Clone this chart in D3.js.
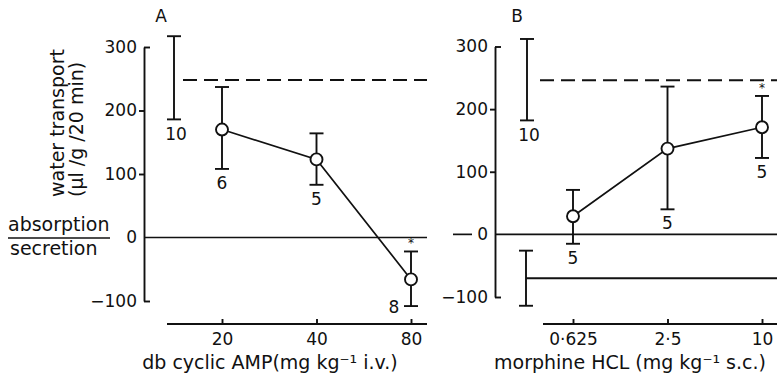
<!DOCTYPE html>
<html>
<head>
<meta charset="utf-8">
<script src="https://cdn.jsdelivr.net/npm/d3@7"></script>
<style>
  body { margin: 0; background: #fff; }
  text { font-family: "DejaVu Sans", sans-serif; fill: #111; }
</style>
</head>
<body>
<svg id="chart" width="777" height="377"></svg>
<script>
// panel A: db cyclic AMP
const dosesA = [20, 40, 80];
const tickLabelsA = ["20", "40", "80"];
const meansA = [170, 123, -66];
const upperA = [237, 164, -22];
const lowerA = [108, 83, -108];
const nA = [6, 5, 8];
const starA = [false, false, true];
const controlA = [248, 186, 317]; // mean, low, high
const controlNA = 10;

// panel B: morphine HCL
const dosesB = [0.625, 2.5, 10];
const tickLabelsB = ["0·625", "2·5", "10"];
const meansB = [29, 137, 171];
const upperB = [71, 236, 221];
const lowerB = [-15, 40, 122];
const nB = [5, 5, 5];
const starB = [false, false, true];
const controlB = [246, 182, 312];
const controlNB = 10;
const morphineAlone = [-70, -114, -26];

const yTicks = [-100, 0, 100, 200, 300];

const svg = d3.select("#chart");
svg.append("rect").attr("width", 777).attr("height", 377).attr("fill", "#fff");

const stroke = "#111";

function panel(cfg) {
    const g = svg.append("g");
    const y = d3.scaleLinear().domain([-100, 300]).range(cfg.yRange);
    const x = d3.scaleLog().base(2).domain(d3.extent(cfg.doses)).range(cfg.xRange);

    // y axis
    const yAxis = g.append("g")
        .attr("transform", `translate(${cfg.axisX},0)`)
        .call(d3.axisLeft(y).tickValues(yTicks).tickSize(5).tickPadding(2).tickSizeOuter(0).tickFormat(d3.format("d")));
    yAxis.select(".domain").attr("stroke", stroke).attr("stroke-width", 1.9);
    yAxis.selectAll(".tick line").attr("stroke", stroke).attr("stroke-width", 1.9)
        .attr("x2", d => (d === 300 || d === -100) ? 6 : (d === 0 ? 0 : -5));
    yAxis.selectAll(".tick text").attr("font-size", 17).attr("fill", "#111")
        .attr("font-family", "DejaVu Sans, sans-serif");

    // x axis (ticks pointing up)
    const xAxis = g.append("g")
        .attr("transform", `translate(0,${cfg.xAxisY})`)
        .call(d3.axisBottom(x).tickValues(cfg.doses).tickSizeInner(-5).tickSizeOuter(0).tickPadding(9)
            .tickFormat((d, i) => cfg.tickLabels[i]));
    xAxis.select(".domain").remove();
    xAxis.selectAll(".tick line").attr("stroke", stroke).attr("stroke-width", 1.9);
    xAxis.selectAll(".tick text").attr("font-size", 17).attr("fill", "#111")
        .attr("font-family", "DejaVu Sans, sans-serif");
    g.append("line")
        .attr("x1", cfg.xLineExtent[0]).attr("x2", cfg.xLineExtent[1])
        .attr("y1", cfg.xAxisY).attr("y2", cfg.xAxisY)
        .attr("stroke", stroke).attr("stroke-width", 1.9);
    g.append("text")
        .attr("x", cfg.xTitleX).attr("y", 369)
        .attr("text-anchor", "middle").attr("font-size", 19)
        .text(cfg.xTitle);

    // zero line
    g.append("line")
        .attr("x1", cfg.axisX).attr("x2", cfg.zeroEnd)
        .attr("y1", y(0)).attr("y2", y(0))
        .attr("stroke", stroke).attr("stroke-width", 1.7);

    // panel letter
    g.append("text").attr("x", cfg.letterX).attr("y", 22)
        .attr("font-size", 17).attr("text-anchor", "middle").text(cfg.letter);

    // control bar + dashed mean
    const cx = cfg.controlX;
    g.append("line").attr("x1", cx).attr("x2", cx)
        .attr("y1", y(cfg.control[1])).attr("y2", y(cfg.control[2]))
        .attr("stroke", stroke).attr("stroke-width", 1.9);
    [cfg.control[1], cfg.control[2]].forEach(v => {
        g.append("line").attr("x1", cx - 7).attr("x2", cx + 7)
            .attr("y1", y(v)).attr("y2", y(v))
            .attr("stroke", stroke).attr("stroke-width", 1.9);
    });
    g.append("line")
        .attr("x1", cfg.dashStart).attr("x2", cfg.lineEnd)
        .attr("y1", y(cfg.control[0])).attr("y2", y(cfg.control[0]))
        .attr("stroke", stroke).attr("stroke-width", 1.9)
        .attr("stroke-dasharray", "14,7");
    g.append("text").attr("x", cx + 2).attr("y", y(cfg.control[1]) + 21)
        .attr("text-anchor", "middle").attr("font-size", 17).text(cfg.controlN);

    // connecting line
    const pts = cfg.doses.map((d, i) => [x(d), y(cfg.means[i])]);
    g.append("path").attr("d", d3.line()(pts))
        .attr("fill", "none").attr("stroke", stroke).attr("stroke-width", 1.7);

    // error bars
    cfg.doses.forEach((d, i) => {
        const px = x(d);
        g.append("line").attr("x1", px).attr("x2", px)
            .attr("y1", y(cfg.lower[i])).attr("y2", y(cfg.upper[i]))
            .attr("stroke", stroke).attr("stroke-width", 1.9);
        [cfg.lower[i], cfg.upper[i]].forEach(v => {
            g.append("line").attr("x1", px - 7).attr("x2", px + 7)
                .attr("y1", y(v)).attr("y2", y(v))
                .attr("stroke", stroke).attr("stroke-width", 1.9);
        });
        if (cfg.star[i]) {
            g.append("text").attr("x", px).attr("y", y(cfg.upper[i]) - 4)
                .attr("text-anchor", "middle").attr("font-size", 12).text("*");
        }
        const lx = cfg.nLeft[i] ? px - 17 : px;
        const ly = cfg.nLeft[i] ? y(cfg.lower[i]) + 7 : y(cfg.lower[i]) + 20;
        g.append("text").attr("x", lx).attr("y", ly)
            .attr("text-anchor", "middle").attr("font-size", 17).text(cfg.n[i]);
    });

    // points
    g.selectAll("circle.pt").data(pts).join("circle")
        .attr("class", "pt")
        .attr("cx", p => p[0]).attr("cy", p => p[1]).attr("r", 6)
        .attr("fill", "#fff").attr("stroke", stroke).attr("stroke-width", 1.9);

    return { g, y, x };
}

panel({
    doses: dosesA, tickLabels: tickLabelsA, means: meansA, upper: upperA, lower: lowerA,
    n: nA, star: starA, nLeft: [false, false, true],
    control: controlA, controlN: controlNA,
    yRange: [301, 47], xRange: [222, 411], axisX: 144, xAxisY: 324,
    xLineExtent: [167, 427], xTitle: "db cyclic AMP(mg kg⁻¹ i.v.)", xTitleX: 270,
    zeroEnd: 427, letter: "A", letterX: 161, controlX: 174, dashStart: 183, lineEnd: 427
});

const pB = panel({
    doses: dosesB, tickLabels: tickLabelsB, means: meansB, upper: upperB, lower: lowerB,
    n: nB, star: starB, nLeft: [false, false, false],
    control: controlB, controlN: controlNB,
    yRange: [297, 46.5], xRange: [573, 762], axisX: 495, xAxisY: 324,
    xLineExtent: [543, 777], xTitle: "morphine HCL (mg kg⁻¹ s.c.)", xTitleX: 630,
    zeroEnd: 777, letter: "B", letterX: 517, controlX: 527, dashStart: 540, lineEnd: 777
});

// morphine alone reference (panel B)
const mx = 526;
pB.g.append("line").attr("x1", mx).attr("x2", mx)
    .attr("y1", pB.y(morphineAlone[1])).attr("y2", pB.y(morphineAlone[2]))
    .attr("stroke", stroke).attr("stroke-width", 1.9);
[morphineAlone[1], morphineAlone[2]].forEach(v => {
    pB.g.append("line").attr("x1", mx - 7).attr("x2", mx + 7)
        .attr("y1", pB.y(v)).attr("y2", pB.y(v))
        .attr("stroke", stroke).attr("stroke-width", 1.9);
});
pB.g.append("line").attr("x1", mx).attr("x2", 777)
    .attr("y1", pB.y(morphineAlone[0])).attr("y2", pB.y(morphineAlone[0]))
    .attr("stroke", stroke).attr("stroke-width", 1.9);
// short dash left of the B zero label
pB.g.append("line").attr("x1", 453).attr("x2", 472)
    .attr("y1", pB.y(0)).attr("y2", pB.y(0))
    .attr("stroke", stroke).attr("stroke-width", 1.7);

// y axis title
const yt = svg.append("g");
yt.append("text").attr("transform", "translate(64,197) rotate(-90)")
    .attr("font-size", 19).text("water transport");
yt.append("text").attr("transform", "translate(83,197) rotate(-90)")
    .attr("font-size", 19).text("(µl /g /20 min)");

// absorption / secretion
svg.append("text").attr("x", 8).attr("y", 231).attr("font-size", 19).text("absorption");
svg.append("line").attr("x1", 8).attr("x2", 110).attr("y1", 238).attr("y2", 238)
    .attr("stroke", stroke).attr("stroke-width", 1.7);
svg.append("text").attr("x", 10).attr("y", 255).attr("font-size", 19).text("secretion");
</script>
</body>
</html>
